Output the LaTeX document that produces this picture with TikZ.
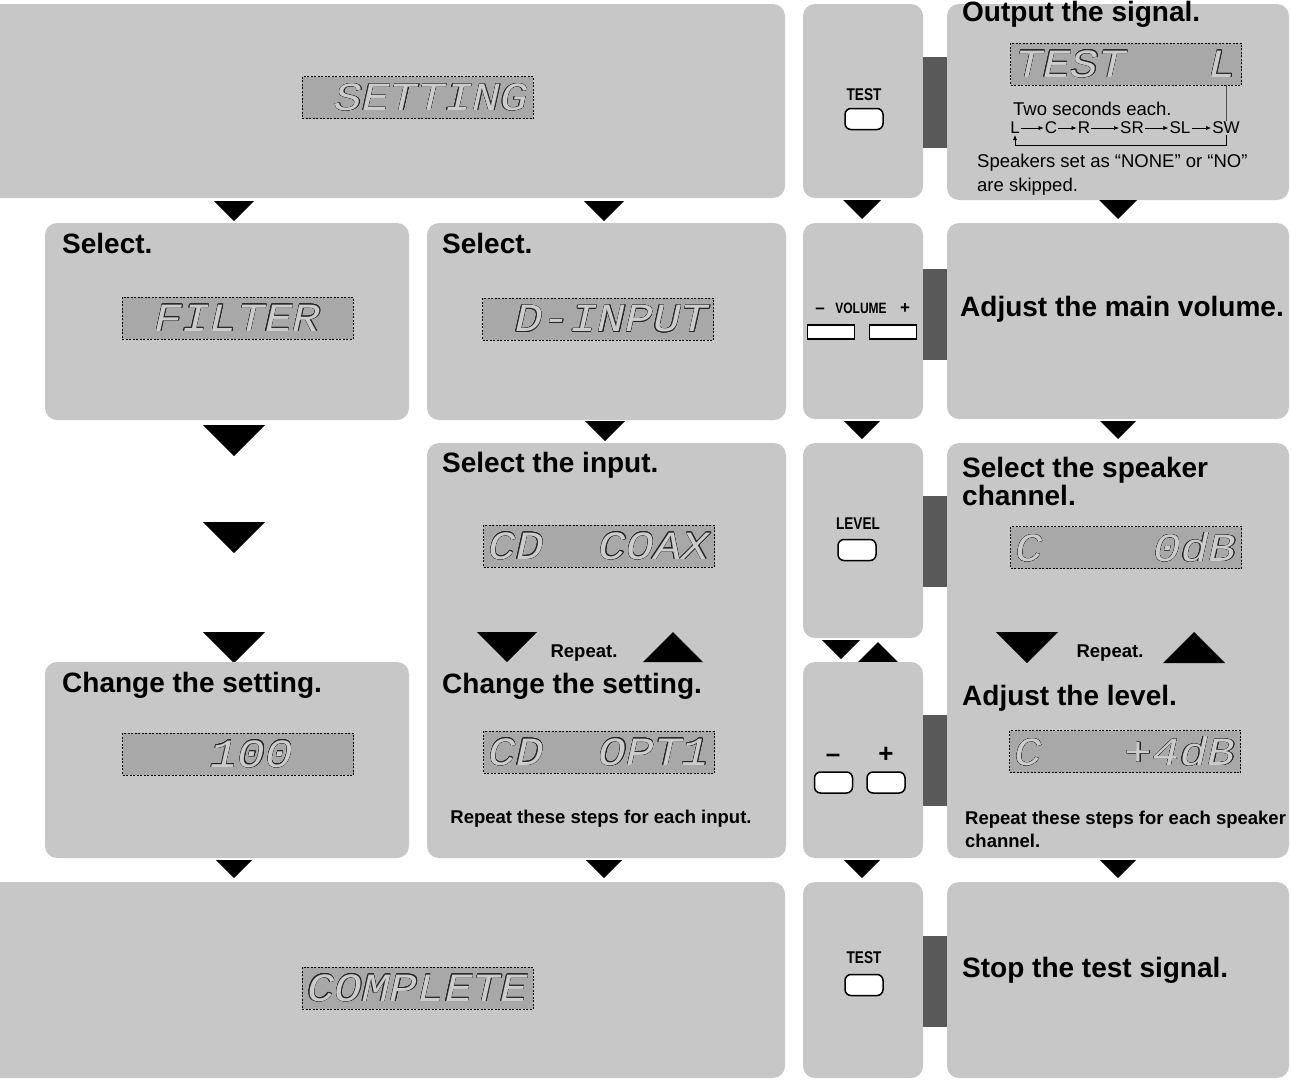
\documentclass[tikz,border=0pt]{standalone}
\usepackage{fontspec}
\setmainfont{Liberation Sans}
\setmonofont{Liberation Mono}
\usepackage{xcolor}
\usepackage{contour}
\contourlength{0.35pt}
\usetikzlibrary{arrows.meta, positioning, calc}

\definecolor{panelgray}{gray}{0.78}
\definecolor{lcdgray}{gray}{0.66}
\definecolor{lcdtext}{gray}{0.8}
\definecolor{bargray}{gray}{0.35}

\newcommand{\headfont}{\fontsize{28}{28}\selectfont\bfseries}
\newcommand{\notefont}{\fontsize{18.5}{23}\selectfont\bfseries}
\newcommand{\plainfont}{\fontsize{18.5}{24}\selectfont}
\newcommand{\lcdtxt}[1]{\scalebox{1.15}[1]{\contour{black!85}{\textcolor{lcdtext}{#1}}}}
\newcommand{\keylabel}[1]{\scalebox{0.8}[1]{#1}}

\begin{document}
\begin{tikzpicture}[x=1pt, y=-1pt,
        panel/.style 2 args={rectangle, rounded corners=12pt, fill=panelgray, minimum width=#1, minimum height=#2, inner sep=0pt},
        lcd/.style={rectangle, draw=black, dash pattern=on 2pt off 1.5pt, line width=0.5pt, fill=lcdgray, minimum width=231pt, minimum height=42pt, inner sep=0pt, font=\fontsize{40}{40}\selectfont\ttfamily\itshape},
        head/.style={anchor=base west, inner sep=0pt, font=\headfont},
        note/.style={inner sep=0pt, font=\notefont},
        bar/.style={rectangle, fill=bargray, minimum width=24pt, minimum height=91pt, inner sep=0pt},
        key/.style={rectangle, rounded corners=6pt, draw=black, line width=1.5pt, fill=white, minimum width=38pt, minimum height=21pt, inner sep=0pt},
        volkey/.style={rectangle, draw=black, line width=1.2pt, fill=white, minimum width=47pt, minimum height=14pt, inner sep=0pt},
        keytext/.style={anchor=base, inner sep=0pt, font=\fontsize{17}{17}\selectfont\bfseries},
        seq/.style={inner sep=1pt, font=\fontsize{17}{17}\selectfont},
        seqarrow/.style={-{Latex[length=5pt, width=4pt]}, line width=0.6pt},
        dtri/.pic={\fill (-#1,0) -- (#1,0) -- (0,#1) -- cycle;},
        utri/.pic={\fill (-#1,#1) -- (#1,#1) -- (0,0) -- cycle;}
    ]
        \useasboundingbox (0,0) rectangle (1291,1080);
        \clip (0,0) rectangle (1291,1080);

        % Left: setting flow
        \node[panel={815pt}{194pt}] (setting) at (377.5,101) {};
        \node[lcd] (lcdsetting) at (417.5,97.5) {\lcdtxt{~SETTING}};
        \pic at (234,201) {dtri=20};
        \pic at (604,201) {dtri=20};

        \node[panel={364pt}{197pt}] (filter) at (227,321.5) {};
        \node[head] (selfilter) at (62,253) {Select.};
        \node[lcd] (lcdfilter) at (237.5,318) {\lcdtxt{~FILTER~}};

        \node[panel={359pt}{197pt}] (dinput) at (606.5,321.5) {};
        \node[head] (seldinput) at (442,253) {Select.};
        \node[lcd] (lcddinput) at (598,319) {\lcdtxt{~D-INPUT}};

        \pic at (234,425) {dtri=31};
        \pic at (234,522) {dtri=31};
        \pic at (234,632) {dtri=31};
        \pic at (605,421) {dtri=20};

        % Input selection
        \node[panel={359pt}{415pt}] (selinput) at (606.5,650.5) {};
        \node[head] (selinputtitle) at (442,472) {Select the input.};
        \node[lcd] (lcdcoax) at (599,546) {\lcdtxt{CD~~COAX}};
        \pic at (507,632) {dtri=30};
        \node[note, anchor=base] (repinput) at (584,657) {Repeat.};
        \pic at (673,632) {utri=30};
        \node[head] (chginput) at (442,693) {Change the setting.};
        \node[lcd] (lcdopt) at (599,752) {\lcdtxt{CD~~OPT1}};
        \node[note, anchor=base] (eachinput) at (601,823) {Repeat these steps for each input.};

        % Filter setting
        \node[panel={364pt}{196pt}] (change) at (227,760) {};
        \node[head] (chgfilter) at (62,692) {Change the setting.};
        \node[lcd] (lcdhundred) at (238,754) {\lcdtxt{~~~100~~}};

        \pic at (234,860) {dtri=18};
        \pic at (604,860) {dtri=18};

        \node[panel={815pt}{196pt}] (complete) at (377.5,980) {};
        \node[lcd] (lcdcomplete) at (417.5,988) {\lcdtxt{COMPLETE}};

        % Right: test tone
        \node[panel={120pt}{194pt}] (testa) at (863,101) {};
        \node[keytext] (testalabel) at (864,100) {\keylabel{TEST}};
        \node[key] (testakey) at (864,119) {};
        \node[bar] (bara) at (934.5,102.5) {};
        \node[panel={342pt}{196pt}] (output) at (1118,102) {};
        \node[head] (outtitle) at (962,21) {Output the signal.};
        \node[lcd] (lcdtest) at (1126,64) {\lcdtxt{TEST~~~L}};
        \node[anchor=base west, inner sep=0pt, font=\plainfont] (twosec) at (1013,115) {Two seconds each.};
        \node[seq] (l) at (1015,128) {L};
        \node[seq] (c) at (1051,128) {C};
        \node[seq] (r) at (1084,128) {R};
        \node[seq] (sr) at (1132,128) {SR};
        \node[seq] (sl) at (1180,128) {SL};
        \node[seq] (sw) at (1226,128) {SW};
        \draw[seqarrow] (l) -- (c);
        \draw[seqarrow] (c) -- (r);
        \draw[seqarrow] (r) -- (sr);
        \draw[seqarrow] (sr) -- (sl);
        \draw[seqarrow] (sl) -- (sw);
        \draw[seqarrow] (sw.south) -- ++(0,10) -| (l.south);
        \draw[line width=0.6pt, black!70] (lcdtest.south -| sw) -- (sw.north);
        \node[anchor=north west, align=left, inner sep=0pt, font=\plainfont] (skipped) at (977,154) {Speakers set as ``NONE'' or ``NO''\\are skipped.};
        \pic at (862,200) {dtri=19};
        \pic at (1118,200) {dtri=19};

        % Main volume
        \node[panel={120pt}{196pt}] (volume) at (863,321) {};
        \node[keytext] (volminus) at (820,313) {--};
        \node[keytext, font=\fontsize{15}{15}\selectfont\bfseries] (vollabel) at (861,313) {\keylabel{VOLUME}};
        \node[keytext] (volplus) at (905,313) {+};
        \node[volkey] (volkeyminus) at (831,332) {};
        \node[volkey] (volkeyplus) at (893,332) {};
        \node[bar] (barb) at (934.5,314) {};
        \node[panel={342pt}{196pt}] (mainvol) at (1118,321) {};
        \node[head] (voltitle) at (960,316) {Adjust the main volume.};
        \pic at (862,421) {dtri=18};
        \pic at (1118,421) {dtri=18};

        % Speaker levels
        \node[panel={120pt}{195pt}] (level) at (863,540.5) {};
        \node[keytext] (levellabel) at (858,529) {\keylabel{LEVEL}};
        \node[key] (levelkey) at (857,550) {};
        \node[bar] (barc) at (934.5,541) {};
        \node[panel={342pt}{415pt}] (speaker) at (1118,650.5) {};
        \node[anchor=north west, align=left, inner sep=0pt, font=\headfont] (spktitle) at (962,457) {Select the speaker\\channel.};
        \node[lcd] (lcdzero) at (1126,547.5) {\lcdtxt{C~~~~0dB}};
        \pic at (1027,632) {dtri=31};
        \node[note, anchor=base] (repspk) at (1110,657) {Repeat.};
        \pic at (1194,632) {utri=31};
        \node[head] (lvltitle) at (962,705) {Adjust the level.};
        \node[lcd] (lcdfour) at (1125,751.5) {\lcdtxt{C~~~+4dB}};
        \node[anchor=north west, align=left, inner sep=0pt, font=\notefont] (eachspk) at (965,811) {Repeat these steps for each speaker\\channel.};

        \pic at (841,640) {dtri=19};
        \pic at (878,642) {utri=20};

        \node[panel={120pt}{196pt}] (plusminus) at (863,760) {};
        \node[keytext, font=\fontsize{26}{26}\selectfont\bfseries] (pmminus) at (833,762) {--};
        \node[keytext, font=\fontsize{26}{26}\selectfont\bfseries] (pmplus) at (886,762) {+};
        \node[key] (pmkeyminus) at (833.5,782.5) {};
        \node[key] (pmkeyplus) at (886,782.5) {};
        \node[bar] (bard) at (934.5,760) {};

        \pic at (862,860) {dtri=18};
        \pic at (1118,860) {dtri=18};

        % Stop
        \node[panel={120pt}{196pt}] (testb) at (863,980) {};
        \node[keytext] (testblabel) at (864,963) {\keylabel{TEST}};
        \node[key] (testbkey) at (864,985) {};
        \node[bar] (bare) at (934.5,981) {};
        \node[panel={342pt}{196pt}] (stop) at (1118,980) {};
        \node[head] (stoptitle) at (962,977) {Stop the test signal.};
    \end{tikzpicture}
\end{document}
